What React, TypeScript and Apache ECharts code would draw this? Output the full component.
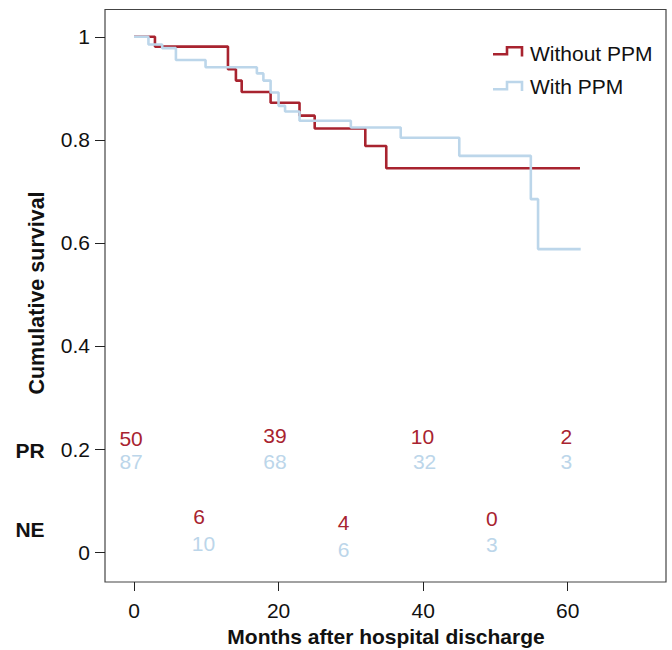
import React, { useEffect, useRef } from "react";
import * as echarts from "echarts";

// Kaplan-Meier step data (event times in months, cumulative survival)
const withoutTimes = [0, 2.9, 13.0, 14.1, 14.9, 18.9, 22.9, 25.0, 32.0, 34.9, 61.7];
const withoutSurv = [1, 0.981, 0.937, 0.915, 0.893, 0.872, 0.847, 0.822, 0.788, 0.745, 0.745];

const withTimes = [0, 2.0, 3.9, 5.8, 9.9, 17.0, 17.9, 18.9, 20.0, 20.9, 22.9, 30.0, 36.9, 45.0, 54.9, 55.9, 61.8];
const withSurv = [1, 0.985, 0.978, 0.955, 0.941, 0.929, 0.915, 0.892, 0.866, 0.855, 0.837, 0.824, 0.804, 0.769, 0.685, 0.588, 0.588];

const xTicks = [0, 20, 40, 60];
const yTicks = [0, 0.2, 0.4, 0.6, 0.8, 1];

// numbers at risk annotations
const prWithoutCounts = [50, 39, 10, 2];
const prWithoutX = [-0.4, 19.5, 39.9, 59.8];
const prWithoutY = [0.221, 0.227, 0.225, 0.225];
const prWithCounts = [87, 68, 32, 3];
const prWithX = [-0.4, 19.5, 40.2, 59.8];
const prWithY = [0.176, 0.176, 0.176, 0.176];

const neWithoutCounts = [6, 4, 0];
const neWithoutX = [9.0, 29.0, 49.5];
const neWithoutY = [0.07, 0.057, 0.066];
const neWithCounts = [10, 6, 3];
const neWithX = [9.6, 29.0, 49.5];
const neWithY = [0.017, 0.005, 0.014];

const seriesNames = ["Without PPM", "With PPM"];
const rowLabels = ["PR", "NE"];

const RED = "#a8232f";
const BLUE = "#bcd6ea";
const FONT = "'Liberation Sans', Arial, Helvetica, sans-serif";
const FS = 21;

function textSeries(xs: number[], ys: number[], vals: number[], color: string) {
  return {
    type: "scatter",
    symbolSize: 0,
    silent: true,
    itemStyle: { color, opacity: 1 },
    data: xs.map((x, i) => [x, ys[i], vals[i]]),
    label: {
      show: true,
      position: "inside",
      formatter: (p: any) => String(p.value[2]),
      color,
      opacity: 1,
      fontSize: FS,
      fontFamily: FONT,
      textBorderWidth: 0,
      textBorderColor: "transparent",
    },
  };
}

export default function App() {
  const ref = useRef<HTMLDivElement>(null);
  useEffect(() => {
    document.body.style.margin = "0";
    const chart = echarts.init(ref.current as HTMLDivElement, null, { renderer: "svg" });
    const option: any = {
      animation: false,
      backgroundColor: "#ffffff",
      textStyle: { fontFamily: FONT },
      grid: {
        left: 105,
        top: 9.5,
        right: 6,
        bottom: 68,
        show: true,
        borderColor: "#444",
        borderWidth: 1.2,
      },
      xAxis: {
        type: "value",
        min: -4.01,
        max: 73.6,
        axisLine: { show: false, onZero: false },
        splitLine: { show: false },
        axisTick: {
          show: true,
          length: 9,
          lineStyle: { color: "#222", width: 1 },
          customValues: xTicks,
        },
        axisLabel: {
          customValues: xTicks,
          color: "#111",
          fontSize: FS,
          fontFamily: FONT,
          margin: 18,
          formatter: (v: number) => String(v),
        },
      },
      yAxis: {
        type: "value",
        min: -0.058,
        max: 1.053,
        axisLine: { show: false, onZero: false },
        splitLine: { show: false },
        axisTick: {
          show: true,
          length: 10,
          lineStyle: { color: "#222", width: 1 },
          customValues: yTicks,
        },
        axisLabel: {
          customValues: yTicks,
          color: "#111",
          fontSize: FS,
          fontFamily: FONT,
          margin: 15,
          formatter: (v: number) => String(Math.round(v * 10) / 10),
        },
      },
      series: [
        {
          name: seriesNames[0],
          type: "line",
          step: "end",
          symbol: "none",
          lineStyle: { color: RED, width: 2.6 },
          data: withoutTimes.map((t, i) => [t, withoutSurv[i]]),
          z: 3,
        },
        {
          name: seriesNames[1],
          type: "line",
          step: "end",
          symbol: "none",
          lineStyle: { color: BLUE, width: 2.6 },
          data: withTimes.map((t, i) => [t, withSurv[i]]),
          z: 4,
        },
        textSeries(prWithoutX, prWithoutY, prWithoutCounts, RED),
        textSeries(prWithX, prWithY, prWithCounts, BLUE),
        textSeries(neWithoutX, neWithoutY, neWithoutCounts, RED),
        textSeries(neWithX, neWithY, neWithCounts, BLUE),
      ],
      graphic: [
        {
          type: "polyline",
          shape: { points: [[493, 54.3], [507, 54.3], [507, 47.3], [522, 47.3], [522, 56.5]] },
          style: { stroke: RED, lineWidth: 2.6, fill: "none" },
        },
        {
          type: "text",
          x: 530,
          y: 53,
          style: { text: seriesNames[0], fill: "#111", font: `${FS}px ${FONT}`, textAlign: "left", textVerticalAlign: "middle" },
        },
        {
          type: "polyline",
          shape: { points: [[493, 89.3], [507, 89.3], [507, 82], [522, 82], [522, 91]] },
          style: { stroke: BLUE, lineWidth: 2.6, fill: "none" },
        },
        {
          type: "text",
          x: 530,
          y: 86,
          style: { text: seriesNames[1], fill: "#111", font: `${FS}px ${FONT}`, textAlign: "left", textVerticalAlign: "middle" },
        },
        {
          type: "text",
          x: 30,
          y: 450,
          style: { text: rowLabels[0], fill: "#111", font: `bold ${FS}px ${FONT}`, textAlign: "center", textVerticalAlign: "middle" },
        },
        {
          type: "text",
          x: 30,
          y: 529,
          style: { text: rowLabels[1], fill: "#111", font: `bold ${FS}px ${FONT}`, textAlign: "center", textVerticalAlign: "middle" },
        },
        {
          type: "text",
          x: 37,
          y: 293,
          rotation: Math.PI / 2,
          style: { text: "Cumulative survival", fill: "#111", font: `bold 21.5px ${FONT}`, textAlign: "center", textVerticalAlign: "middle" },
        },
        {
          type: "text",
          x: 386,
          y: 636,
          style: { text: "Months after hospital discharge", fill: "#111", font: `bold ${FS}px ${FONT}`, textAlign: "center", textVerticalAlign: "middle" },
        },
      ],
    };
    chart.setOption(option);
    return () => chart.dispose();
  }, []);
  return <div ref={ref} style={{ width: 672, height: 650 }} />;
}
